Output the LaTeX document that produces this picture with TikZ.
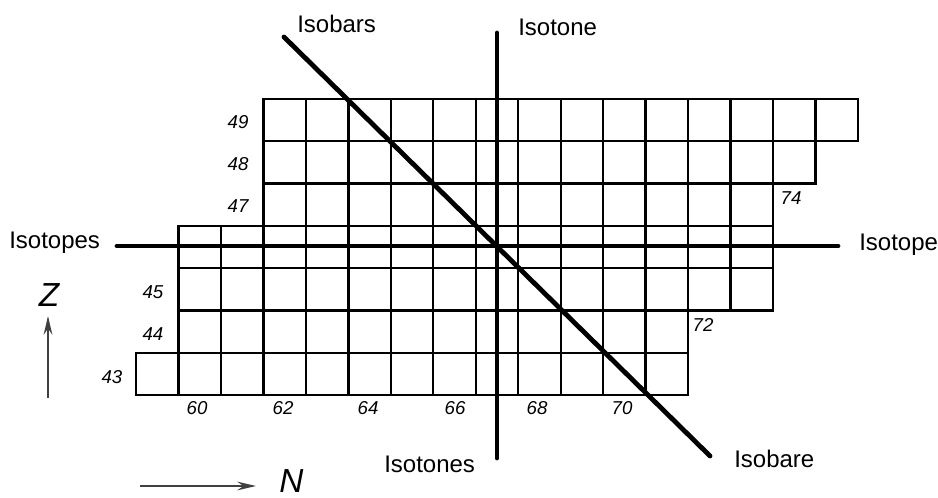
\documentclass[tikz,border=0pt]{standalone}
\usepackage{fontspec}
\setmainfont{Liberation Sans}
\usetikzlibrary{arrows.meta}
\begin{document}
\begin{tikzpicture}[x=0.75pt,y=-0.75pt,
  cell/.style={draw=black,line width=1.8pt},
  heavy/.style={line width=3.6pt,line cap=round},
  lbl/.style={font=\fontsize{18}{20}\selectfont,inner sep=0pt,anchor=base west},
  num/.style={font=\fontsize{14}{16}\selectfont\itshape,inner sep=0pt},
  axisarrow/.style={line width=1.4pt,draw=black!75,-{Stealth[length=14pt,width=6.5pt]}},
  axlbl/.style={font=\fontsize{25}{28}\selectfont\itshape,inner sep=0pt}]
\useasboundingbox (0,0) rectangle (938,498);
\def\cw{42.47}\def\rh{42.29}
% grid of nuclides
\foreach \z/\a/\b in {49/62/75,48/62/74,47/62/73,46/60/73,45/60/73,44/60/71,43/59/71}{
  \foreach \n in {\a,...,\b}{
    \pgfmathsetmacro\xl{136+(\n-59)*\cw}
    \pgfmathsetmacro\yt{99+(49-\z)*\rh}
    \draw[cell] (\xl,\yt) rectangle ++(\cw,\rh);
  }
}
% row labels (Z)
\node[num] (z49) at (238,122) {49};
\node[num] (z48) at (238,164) {48};
\node[num] (z47) at (238,206) {47};
\node[num] (z45) at (153,292) {45};
\node[num] (z44) at (153,334) {44};
\node[num] (z43) at (112,377) {43};
% column labels (N)
\node[num] (n60) at (197,408) {60};
\node[num] (n62) at (283,408) {62};
\node[num] (n64) at (368,408) {64};
\node[num] (n66) at (455,408) {66};
\node[num] (n68) at (537,408) {68};
\node[num] (n70) at (622,408) {70};
\node[num] (n72) at (703,325) {72};
\node[num] (n74) at (791,198) {74};
% heavy lines
\coordinate (bA) at (284,37);  \coordinate (bB) at (710,456);
\coordinate (tA) at (497,33);  \coordinate (tB) at (497,458);
\coordinate (pA) at (117,246); \coordinate (pB) at (838,246);
\draw[heavy] (pA) -- (pB);
\draw[heavy] (tA) -- (tB);
\draw[heavy] (bA) -- (bB);
% line labels
\node[lbl] (lIsobars)  at (297,33)  {Isobars};
\node[lbl] (lIsotone)  at (518,36)  {Isotone};
\node[lbl] (lIsotopes) at (9,249)   {Isotopes};
\node[lbl] (lIsotope)  at (859,251) {Isotope};
\node[lbl] (lIsotones) at (384,472) {Isotones};
\node[lbl] (lIsobare)  at (734,467) {Isobare};
% axes
\coordinate (zs) at (48,398); \coordinate (ze) at (48,316);
\draw[axisarrow] (zs) -- (ze);
\node[axlbl] (Zl) at (49,295) {Z};
\coordinate (ns) at (140,486); \coordinate (ne) at (256,486);
\draw[axisarrow] (ns) -- (ne);
\node[axlbl,anchor=base west] (Nl) at (279,492) {N};
\end{tikzpicture}
\end{document}
